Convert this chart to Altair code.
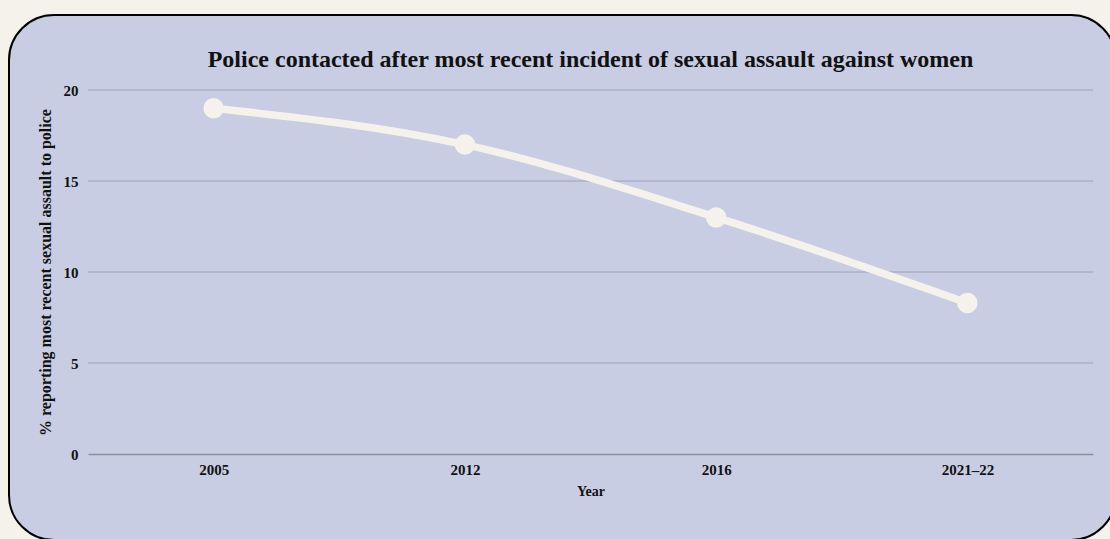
import altair as alt
import pandas as pd

years = ["2005", "2012", "2016", "2021–22"]
values = [19.0, 17.0, 13.0, 8.3]
y_ticks = [0, 5, 10, 15, 20]
grid_values = [5, 10, 15, 20]

FONT = "Liberation Serif"
CREAM = "#f5f2ec"
LAVENDER = "#c8cde3"
GRID = "#9da2b8"
DOMAIN = "#8a8e9e"

df = pd.DataFrame({"year": years, "value": values})
grid_df = pd.DataFrame({"v": grid_values})
bg_df = pd.DataFrame({"a": [0]})

x_enc = alt.X(
    "year:N",
    sort=years,
    scale=alt.Scale(type="point", padding=0.5),
    axis=alt.Axis(
        title="Year",
        labelAngle=0,
        ticks=False,
        domain=True,
        domainColor=DOMAIN,
        domainWidth=1.5,
        labelPadding=8,
        titlePadding=7,
        titleFontSize=14,
        zindex=2,
    ),
)
y_enc = alt.Y(
    "value:Q",
    scale=alt.Scale(domain=[0, 20], nice=False),
    axis=alt.Axis(
        title="% reporting most recent sexual assault to police",
        values=y_ticks,
        ticks=False,
        domain=False,
        grid=False,
        labelPadding=10,
        titlePadding=10,
        titleFontSize=16,
        zindex=2,
    ),
)

bg = alt.Chart(bg_df).mark_rect(
    cornerRadius=45, fill=LAVENDER, stroke="black", strokeWidth=2
).encode(
    x=alt.value(-79), x2=alt.value(1028), y=alt.value(-75), y2=alt.value(450)
)

grid = alt.Chart(grid_df).mark_rule(color=GRID, strokeWidth=1).encode(
    y=alt.Y("v:Q", scale=alt.Scale(domain=[0, 20], nice=False))
)

line = alt.Chart(df).mark_line(
    interpolate="monotone", color=CREAM, strokeWidth=7.5
).encode(x=x_enc, y=y_enc)

points = alt.Chart(df).mark_circle(size=420, color=CREAM, opacity=1).encode(
    x=x_enc, y=y_enc
)

chart = (
    alt.layer(bg, grid, line, points)
    .properties(
        width=1005,
        height=364,
        title="Police contacted after most recent incident of sexual assault against women",
        background=CREAM,
        padding={"left": 88, "top": 90, "right": 17, "bottom": 85},
        autosize=alt.AutoSizeParams(type="none"),
    )
    .configure_view(stroke=None)
    .configure_axis(
        labelFont=FONT,
        titleFont=FONT,
        labelFontSize=15,
        labelFontWeight="bold",
        labelColor="#111111",
        titleFontWeight="bold",
        titleColor="#111111",
    )
    .configure_title(
        font=FONT,
        fontSize=24,
        fontWeight="bold",
        color="#111111",
        anchor="middle",
        offset=-58,
    )
)

chart.save("out.html", embed_options={"renderer": "svg", "actions": False})
